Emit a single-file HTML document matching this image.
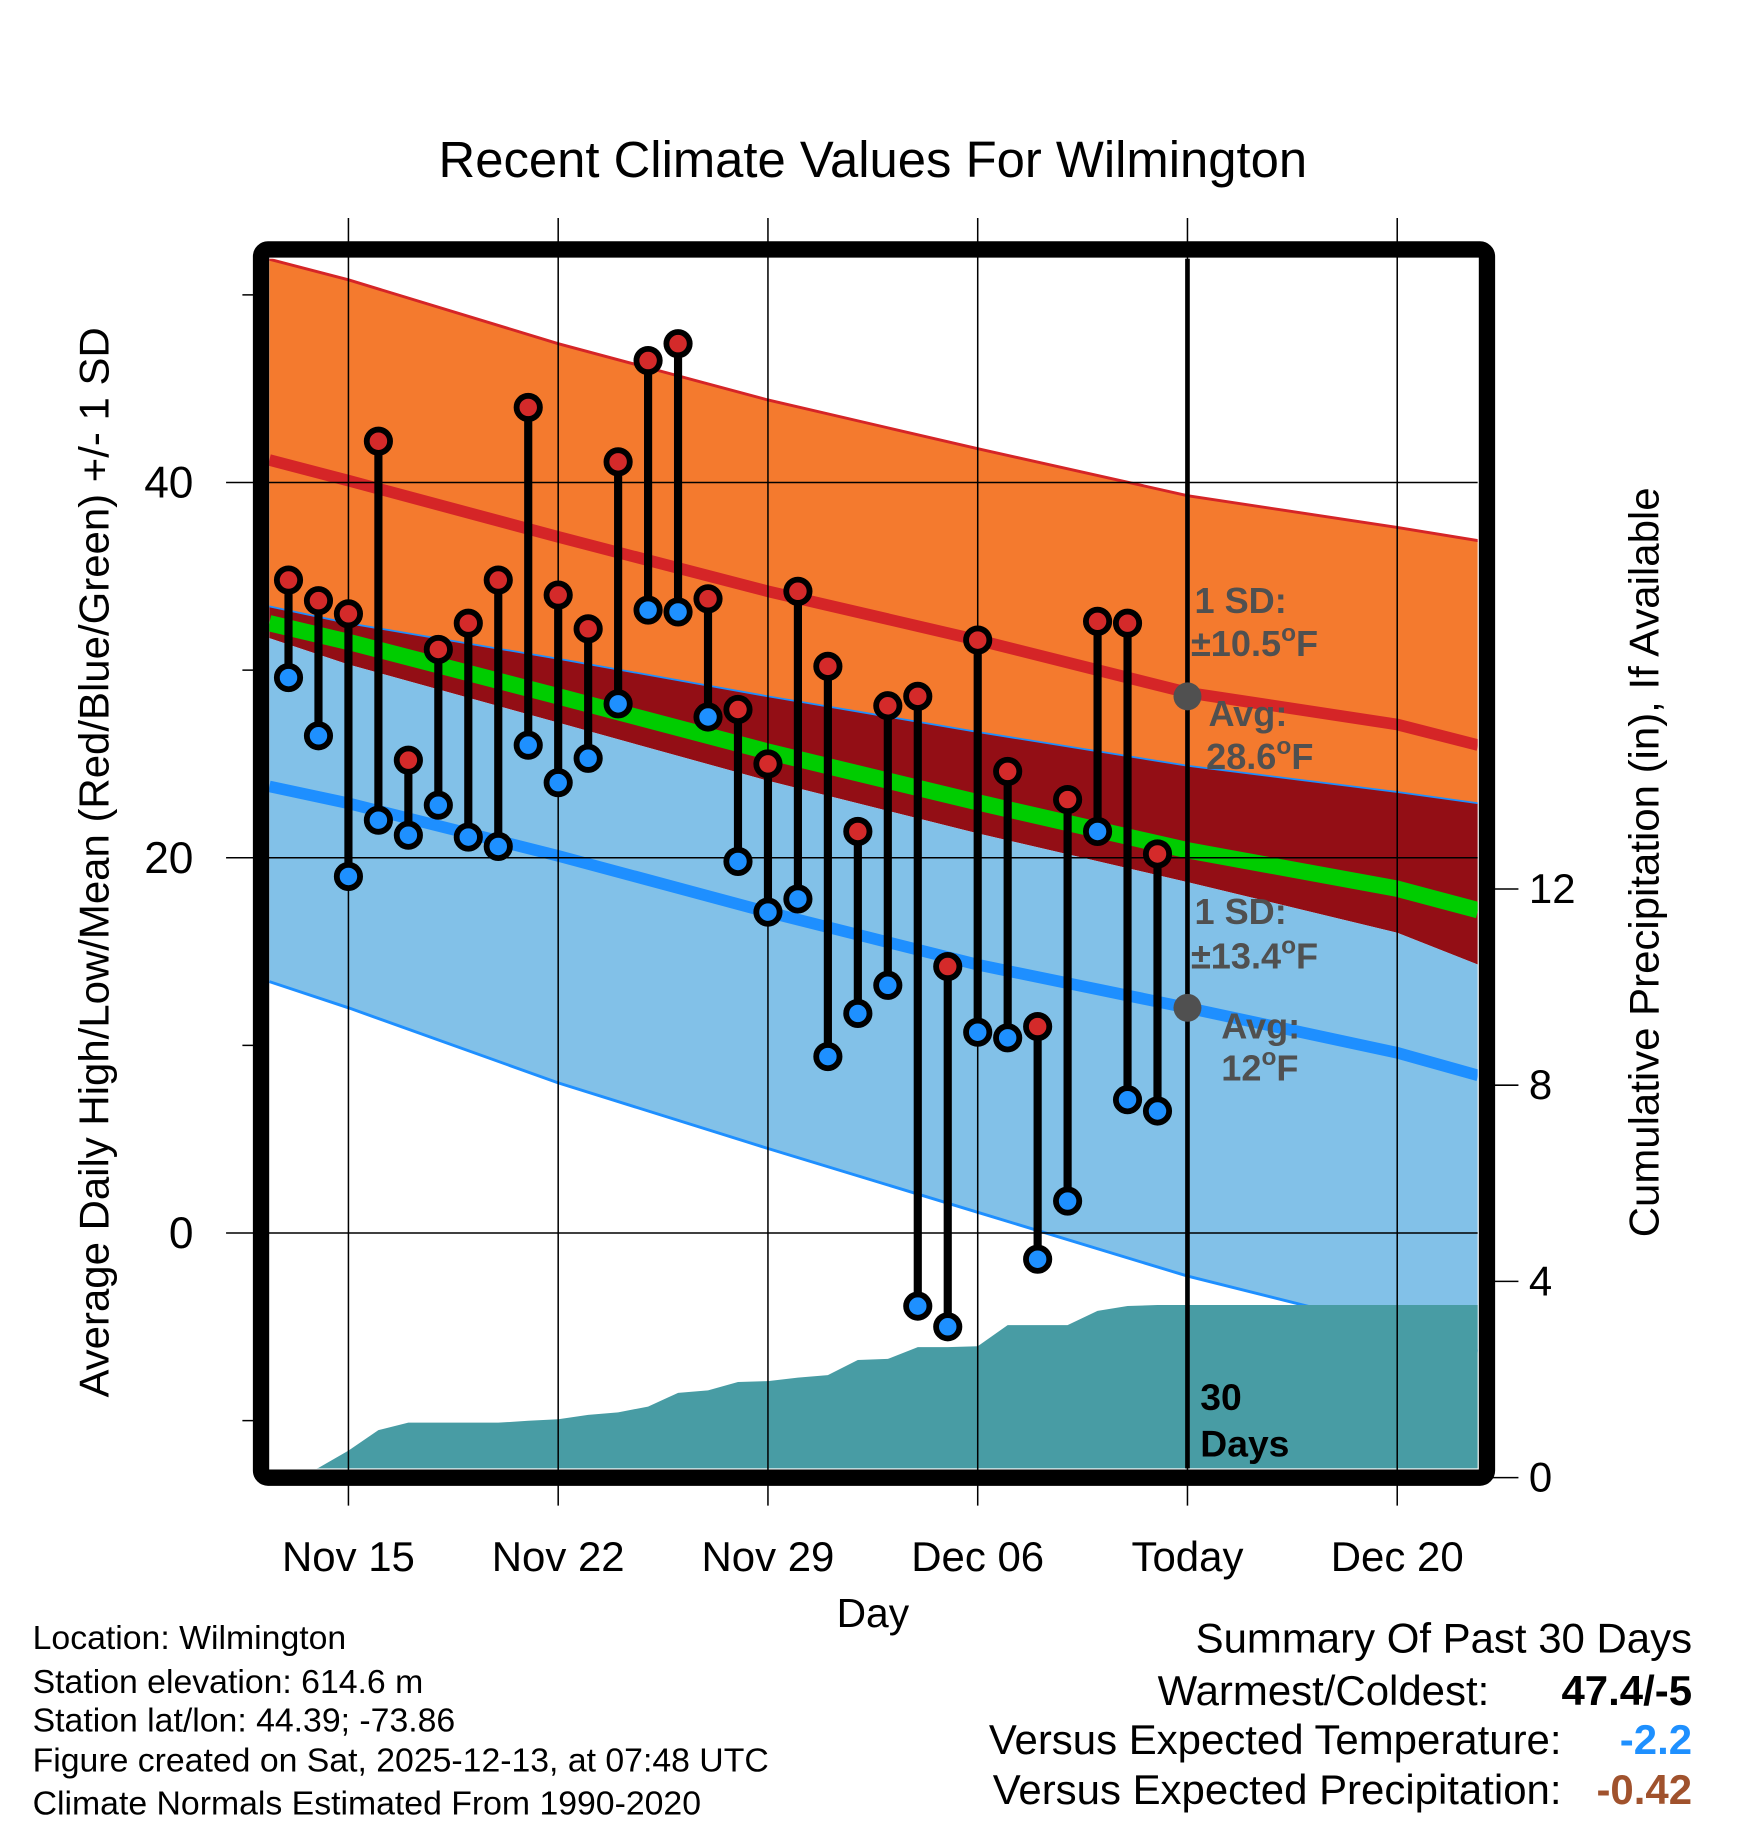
<!DOCTYPE html>
<html><head><meta charset="utf-8"><style>
html,body{margin:0;padding:0;background:#fff;}
svg{display:block;font-family:"Liberation Sans",sans-serif;}
</style></head><body>
<svg id="chart" width="1748" height="1828" viewBox="0 0 1500 1568.6" xmlns="http://www.w3.org/2000/svg">
<defs><clipPath id="plotclip"><rect x="231" y="222" width="1037" height="1038"/></clipPath></defs>
<g id="layers"></g>
</svg>
<script>
// ---- data ----
const knotDays   = [-2.64, 0, 7, 14, 21, 28, 35, 37.7]; // days relative to Nov 15
const hiPlusSD   = [51.9, 50.8, 47.4, 44.4, 41.8, 39.3, 37.6, 36.9];
const hiMean     = [41.2, 40.1, 37.1, 34.2, 31.6, 28.8, 27.1, 26.0];
const hiMinusSD  = [33.4, 32.5, 30.6, 28.6, 26.7, 24.9, 23.5, 22.9];
const loPlusSD   = [31.7, 30.3, 27.2, 24.1, 21.3, 18.7, 16.0, 14.3];
const loMean     = [23.8, 22.9, 20.1, 17.1, 14.3, 12.0, 9.6, 8.4];
const loMinusSD  = [13.4, 12.0, 8.0, 4.5, 1.1, -2.3, -5.1, -6.3];
const dayOffsets = [-2,-1,0,1,2,3,4,5,6,7,8,9,10,11,12,13,14,15,16,17,18,19,20,21,22,23,24,25,26,27];
const highs = [34.8,33.7,33.0,42.2,25.2,31.1,32.5,34.8,44.0,34.0,32.2,41.1,46.5,47.4,33.8,27.9,25.0,34.2,30.2,21.4,28.1,28.6,14.2,31.6,24.6,11.0,23.1,32.6,32.5,20.2];
const lows  = [29.6,26.5,19.0,22.0,21.2,22.8,21.1,20.6,26.0,24.0,25.3,28.2,33.2,33.1,27.5,19.8,17.1,17.8,9.4,11.7,13.2,-3.9,-5.0,10.7,10.4,-1.4,1.7,21.4,7.1,6.5];
const precip = [0.0,0.2,0.55,0.97,1.12,1.12,1.12,1.12,1.16,1.19,1.28,1.33,1.45,1.73,1.78,1.95,1.97,2.04,2.09,2.40,2.42,2.66,2.66,2.68,3.11,3.11,3.11,3.40,3.50,3.52];
const xTickDays = [0,7,14,21,28,35];
const xTickLabels = ["Nov 15","Nov 22","Nov 29","Dec 06","Today","Dec 20"];
const yTicks = [0,20,40];
const yMinor = [-10,10,30,50];
const pTicks = [0,4,8,12];
const todayDay = 28;
const avgHighToday = 28.6, avgLowToday = 12.0;

// ---- scales ----
const X = d => 299 + d*25.714;
const Y = t => 1058 - t*16.1;
const P = p => 1268 - p*42.1;
const NS = "http://www.w3.org/2000/svg";
const root = document.getElementById('layers');
function mk(tag, attrs, parent){ const e=document.createElementNS(NS,tag); for(const k in attrs) e.setAttribute(k,attrs[k]); (parent||root).appendChild(e); return e; }
function pts(arr){ return knotDays.map((d,i)=>X(d).toFixed(1)+","+Y(arr[i]).toFixed(1)); }
function band(top,bot){ return pts(top).concat(pts(bot).reverse()).join(" "); }

const plot = mk('g',{'clip-path':'url(#plotclip)'});



let e;
e = mk('polygon',{points:band(hiPlusSD,hiMinusSD),fill:'#f47a2e'},plot);
 
e = mk('polygon',{points:band(hiMinusSD,loPlusSD),fill:'#930e15'},plot);
 
e = mk('polygon',{points:band(loPlusSD,loMinusSD),fill:'#82c1e8'},plot);
 
e = mk('polyline',{points:pts(hiPlusSD).join(" "),fill:'none',stroke:'#d52527',"stroke-width":2.5},plot);
 
e = mk('polyline',{points:pts(hiMinusSD).join(" "),fill:'none',stroke:'#1e8fff',"stroke-width":1.5},plot);
 
e = mk('polyline',{points:pts(loMinusSD).join(" "),fill:'none',stroke:'#1e8fff',"stroke-width":2.5},plot);
 

// precipitation area
const pp = [X(-2.64)+","+P(0)];
dayOffsets.forEach((d,i)=>pp.push(X(d).toFixed(1)+","+P(precip[i]).toFixed(1)));
pp.push(X(37.7)+","+P(precip[precip.length-1]).toFixed(1));
pp.push(X(37.7)+","+P(0));
e = mk('polygon',{points:pp.join(" "),fill:'#489ca4'},plot);
 

// grid lines
xTickDays.forEach(d=>{ e=mk('line',{x1:X(d),x2:X(d),y1:187,y2:1292,stroke:'#000','stroke-width':1.3});
   });
yTicks.forEach(t=>{ e=mk('line',{x1:194,x2:1268,y1:Y(t),y2:Y(t),stroke:'#000','stroke-width':1.3});
   });
yMinor.forEach(t=>{ e=mk('line',{x1:208,x2:222,y1:Y(t),y2:Y(t),stroke:'#000','stroke-width':1.3});
   });
pTicks.forEach(p=>{ e=mk('line',{x1:1280,x2:1303,y1:P(p),y2:P(p),stroke:'#000','stroke-width':1.3});
  
 e=mk('text',{x:1312,y:P(p)+12,'font-size':36}); e.textContent=p;
   });

// mean lines
e = mk('polyline',{points:pts(hiMean).join(" "),fill:'none',stroke:'#d52527',"stroke-width":10},plot);
 
e = mk('polyline',{points:pts(loMean).join(" "),fill:'none',stroke:'#1e8fff',"stroke-width":10},plot);
 
const midMean = hiMean.map((v,i)=>(v+loMean[i])/2);
e = mk('polyline',{points:pts(midMean).join(" "),fill:'none',stroke:'#00cc00',"stroke-width":14},plot);
 

// today line
e = mk('line',{x1:X(todayDay),x2:X(todayDay),y1:222,y2:1260,stroke:'#000','stroke-width':4});
 

// labels near today
function lbl(x,y,txt,name,size,col){ const t=mk('text',{x:x,y:y,'font-size':size||31,'font-weight':'bold',fill:col||'#505050'}); t.innerHTML=txt;
   return t; }
const deg = '<tspan font-size="21" dy="-13">o</tspan><tspan dy="13">F</tspan>';
lbl(1025,526,'1 SD:','high-sd-label');
lbl(1022,563,'±10.5'+deg,'high-sd-value');
lbl(1037,623,'Avg:','high-avg-label');
lbl(1035,660,'28.6'+deg,'high-avg-value');
lbl(1025,793,'1 SD:','low-sd-label');
lbl(1022,831,'±13.4'+deg,'low-sd-value');
lbl(1048,891,'Avg:','low-avg-label');
lbl(1048,927,'12'+deg,'low-avg-value');
e = mk('circle',{cx:X(todayDay),cy:Y(avgHighToday),r:12,fill:'#505050'});
 
e = mk('circle',{cx:X(todayDay),cy:Y(avgLowToday),r:12,fill:'#505050'});
 
lbl(1030,1210,'30','thirty-days-label',32,'#000');
lbl(1030,1250,'Days','days-label',32,'#000');

// daily stems and points
dayOffsets.forEach((d,i)=>{
 const x=X(d);
 let s=mk('line',{x1:x,x2:x,y1:Y(highs[i]),y2:Y(lows[i]),stroke:'#000','stroke-width':7});
  
 let c=mk('circle',{cx:x,cy:Y(highs[i]),r:10,fill:'#d42a2a',stroke:'#000','stroke-width':5});
  
 c=mk('circle',{cx:x,cy:Y(lows[i]),r:10,fill:'#1e90ff',stroke:'#000','stroke-width':5});
  
});

// frame
e = mk('rect',{x:224,y:214,width:1052,height:1054,rx:6,fill:'none',stroke:'#000','stroke-width':14});
 

// axis labels
xTickDays.forEach((d,i)=>{ const t=mk('text',{x:X(d),y:1348,'font-size':36,'text-anchor':'middle'}); t.textContent=xTickLabels[i];
   });
yTicks.forEach(v=>{ const t=mk('text',{x:166,y:Y(v)+13,'font-size':38,'text-anchor':'end'}); t.textContent=v;
   });

function txt(x,y,s,size,name,anchor,extra){ const t=mk('text',Object.assign({x:x,y:y,'font-size':size,'text-anchor':anchor||'start'},extra||{})); t.textContent=s;
   return t; }
txt(749,152,'Recent Climate Values For Wilmington',43.6,'chart-title','middle');
txt(749,1396,'Day',35,'x-axis-title','middle');
txt(0,0,'Average Daily High/Low/Mean (Red/Blue/Green) +/- 1 SD',36,'y-axis-title','middle',{transform:'translate(93,740) rotate(-90)'});
txt(0,0,'Cumulative Precipitation (in), If Available',36,'y2-axis-title','middle',{transform:'translate(1423,740) rotate(-90)'});

txt(28,1415,'Location: Wilmington',29,'location-note');
txt(28,1453,'Station elevation: 614.6 m',29,'elevation-note');
txt(28,1486,'Station lat/lon: 44.39; -73.86',29,'latlon-note');
txt(28,1520,'Figure created on Sat, 2025-12-13, at 07:48 UTC',29,'created-note');
txt(28,1557,'Climate Normals Estimated From 1990-2020',29,'normals-note');

txt(1452,1418,'Summary Of Past 30 Days',36,'summary-title','end');
txt(1278,1463,'Warmest/Coldest:',36,'warmest-coldest-label','end');
txt(1452,1463,'47.4/-5',36,'warmest-coldest-value','end',{'font-weight':'bold'});
txt(1340,1505,'Versus Expected Temperature:',36,'temp-anomaly-label','end');
txt(1452,1505,'-2.2',36,'temp-anomaly-value','end',{'font-weight':'bold',fill:'#1e90ff'});
txt(1340,1548,'Versus Expected Precipitation:',36,'precip-anomaly-label','end');
txt(1452,1548,'-0.42',36,'precip-anomaly-value','end',{'font-weight':'bold',fill:'#a0522d'});
</script>
</body></html>
